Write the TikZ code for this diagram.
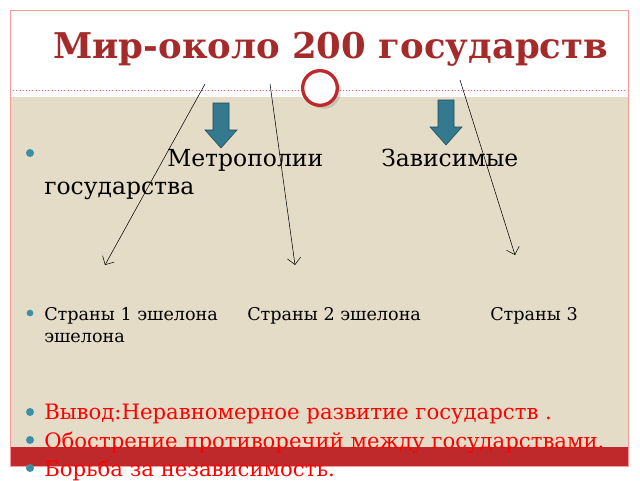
\documentclass[tikz,border=0pt]{standalone}
\usepackage{fontspec}
\setmainfont{DejaVu Serif}
\usetikzlibrary{arrows.meta,shadows}
\definecolor{beige}{HTML}{E5DCC8}
\definecolor{tred}{HTML}{A52A2A}
\definecolor{barred}{HTML}{C0292B}
\definecolor{teal}{HTML}{3C8FA8}
\begin{document}
\begin{tikzpicture}[x=0.75pt,y=-0.75pt,
  txt/.style={anchor=base west,inner sep=0pt},
  big/.style={txt,font=\fontsize{17.6}{20}\selectfont},
  small/.style={txt,font=\fontsize{13.2}{15}\selectfont},
  redt/.style={txt,font=\fontsize{15.9}{18}\selectfont,text=red},
  bul/.style={circle,fill=teal,inner sep=0pt,minimum size=6pt},
  barrow/.style={fill=teal!85!black,draw=teal!50!black},
  ln/.style={-{Straight Barb[length=5pt]},thin}]
\useasboundingbox (0,0) rectangle (640,480);
\fill[white] (0,0) rectangle (640,480);
\fill[beige] (10,97) rectangle (628,466);
\draw[red!50!pink,dotted] (10,90) -- (628,90);
\fill[barred] (10,447) rectangle (628,466);
\draw[red!40] (10,10) rectangle (628,466);
\node[txt,font=\bfseries\fontsize{26.6}{30}\selectfont,text=tred] (t) at (53,58) {Мир-около 200 государств};
\node[circle,draw=barred,line width=2.5pt,fill=white,minimum size=26pt,drop shadow={opacity=0.3}] (c) at (320,88) {};
\draw[barrow] (213,103) -- (229,103) -- (229,130) -- (237,130) -- (221,148) -- (205,130) -- (213,130) -- cycle;
\draw[barrow] (438,100) -- (454,100) -- (454,127) -- (462,127) -- (446,145) -- (430,127) -- (438,127) -- cycle;
\coordinate (s1) at (205,84); \coordinate (e1) at (105,265);
\coordinate (s2) at (270,84); \coordinate (e2) at (295,265);
\coordinate (s3) at (460,80); \coordinate (e3) at (515,255);
\draw[ln] (s1) -- (e1);
\draw[ln] (s2) -- (e2);
\draw[ln] (s3) -- (e3);
\node[bul] (b1) at (30,153) {};
\node[big] (m) at (167,166) {Метрополии};
\node[big] (z) at (381,166) {Зависимые};
\node[big] (g) at (44,194) {государства};
\node[bul,minimum size=5pt] (b2) at (30,313) {};
\node[small] (s1t) at (44,320) {Страны 1 эшелона};
\node[small] (s2t) at (247,320) {Страны 2 эшелона};
\node[small] (s3t) at (490,320) {Страны 3};
\node[small] (s4t) at (44,342) {эшелона};
\node[bul] (b3) at (30,412) {};
\node[redt] (r1) at (44,419) {Вывод:Неравномерное развитие государств .};
\node[bul] (b4) at (30,440) {};
\node[redt] (r2) at (44,448) {Обострение  противоречий между государствами.};
\node[bul] (b5) at (30,468) {};
\node[redt] (r3) at (44,476) {Борьба за независимость.};
\end{tikzpicture}
\end{document}
